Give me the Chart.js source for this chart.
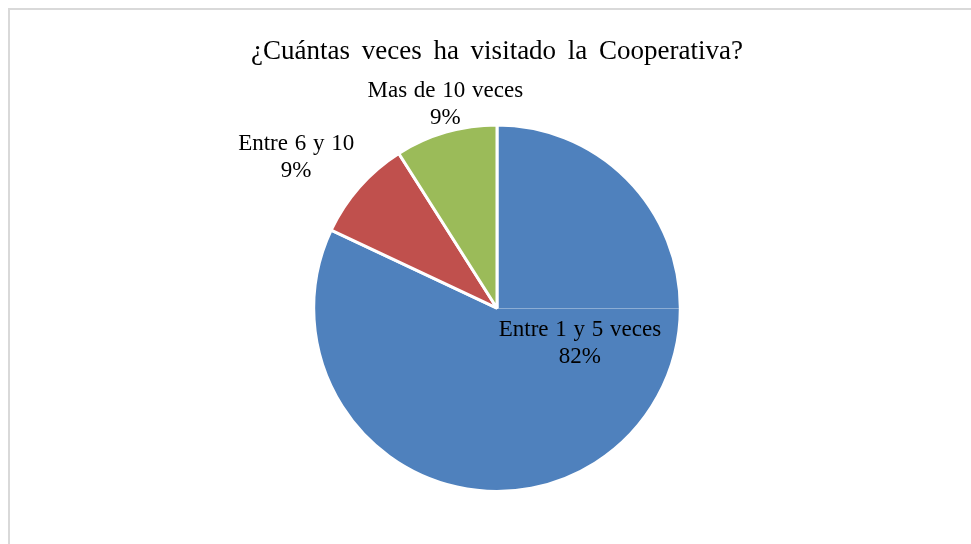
<!DOCTYPE html>
<html>
<head>
<meta charset="utf-8">
<script src="https://cdn.jsdelivr.net/npm/chart.js@4.4.0/dist/chart.umd.min.js"></script>
<style>
    html, body { margin: 0; padding: 0; background: #ffffff; }
    #wrap { position: relative; width: 971px; height: 544px; overflow: hidden; }
    #frame {
        position: absolute; left: 8px; top: 8px; width: 1000px; height: 600px;
        border-top: 2px solid #d9d9d9; border-left: 2px solid #d9d9d9;
    }
    canvas { position: absolute; left: 0; top: 0; }
</style>
</head>
<body>
<div id="wrap">
    <div id="frame"></div>
    <canvas id="myChart" width="971" height="544"></canvas>
</div>
<script>
// Visits to the cooperative
const categories = ['Entre 1 y 5 veces', 'Entre 6 y 10', 'Mas de 10 veces'];
const shares = [82, 9, 9];
const shareLabels = ['82%', '9%', '9%'];
const colors = ['#4F81BD', '#C0504D', '#9BBB59'];

const SERIF = '"Liberation Serif", "Times New Roman", serif';

// where each label sits: angle shift from the slice middle (deg) and distance in radii
const labelPlacement = [
    { shift: -35, dist: 0.49 },
    { shift: -4.5, dist: 1.37 },
    { shift: 2, dist: 1.15 }
];

// wider word gaps in the title, like the office chart it came from
const titleSpacing = {
    id: 'titleSpacing',
    beforeDraw: (chart) => {
        chart.ctx.wordSpacing = '5px';
    },
    afterDraw: (chart) => {
        chart.ctx.wordSpacing = '0px';
    }
};

const sliceLabels = {
    id: 'sliceLabels',
    afterDatasetsDraw: (chart) => {
        const {ctx} = chart;
        const arcs = chart.getDatasetMeta(0).data;
        ctx.save();

        // thin seam on the first slice at three o'clock
        const a0 = arcs[0];
        ctx.strokeStyle = 'rgba(255,255,255,0.35)';
        ctx.lineWidth = 1;
        ctx.beginPath();
        ctx.moveTo(a0.x, Math.round(a0.y) + 0.5);
        ctx.lineTo(a0.x + a0.outerRadius - 1, Math.round(a0.y) + 0.5);
        ctx.stroke();

        ctx.fillStyle = '#000000';
        ctx.font = '23px ' + SERIF;
        ctx.wordSpacing = '1px';
        ctx.textAlign = 'center';
        ctx.textBaseline = 'middle';
        arcs.forEach((arc, i) => {
            const p = labelPlacement[i];
            const mid = (arc.startAngle + arc.endAngle) / 2 + p.shift * Math.PI / 180;
            const x = arc.x + Math.cos(mid) * arc.outerRadius * p.dist;
            const y = arc.y + Math.sin(mid) * arc.outerRadius * p.dist;
            ctx.fillText(categories[i], x, y - 13);
            ctx.fillText(shareLabels[i], x, y + 14);
        });
        ctx.restore();
    }
};

var ctx = document.getElementById('myChart').getContext('2d');
var myChart = new Chart(ctx, {
    type: 'pie',
    data: {
        labels: categories,
        datasets: [{
            data: shares,
            backgroundColor: colors,
            borderColor: '#ffffff',
            borderWidth: 3
        }]
    },
    options: {
        responsive: false,
        animation: false,
        layout: {
            padding: { left: 23, right: 0, top: 0, bottom: 51 }
        },
        plugins: {
            legend: { display: false },
            tooltip: { enabled: false },
            title: {
                display: true,
                text: '¿Cuántas veces ha visitado la Cooperativa?',
                color: '#000000',
                font: { family: SERIF, size: 27, weight: 'normal' },
                padding: { top: 36, bottom: 55 }
            }
        }
    },
    plugins: [titleSpacing, sliceLabels]
});
</script>
</body>
</html>
